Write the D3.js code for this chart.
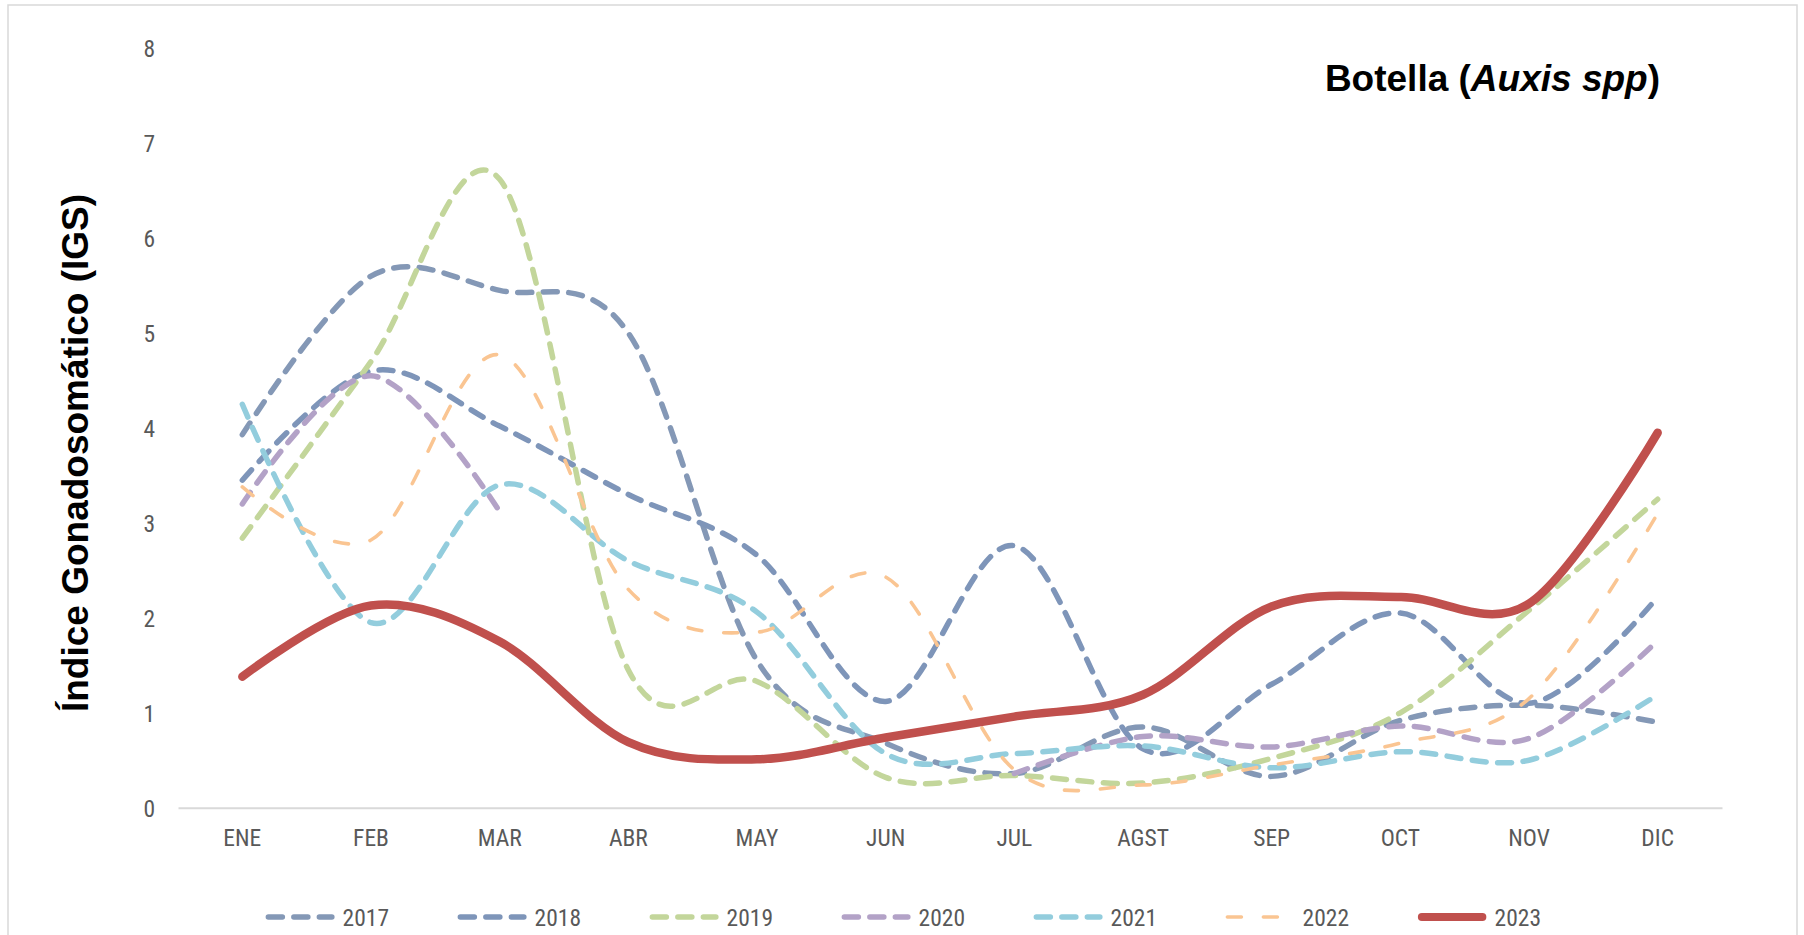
<!DOCTYPE html>
<html>
<head>
<meta charset="utf-8">
<script src="https://cdn.jsdelivr.net/npm/d3@7"></script>
<style>
  html, body { margin: 0; padding: 0; background: #ffffff; }
  svg { display: block; }
</style>
</head>
<body>
<svg id="chart" width="1804" height="935"></svg>
<script>
// Monthly gonadosomatic index (IGS) of Auxis spp, 2017-2023
const months = ["ENE", "FEB", "MAR", "ABR", "MAY", "JUN", "JUL", "AGST", "SEP", "OCT", "NOV", "DIC"];
const yTicks = [0, 1, 2, 3, 4, 5, 6, 7, 8];
const years = ["2017", "2018", "2019", "2020", "2021", "2022", "2023"];

const igs2017 = [3.93, 5.60, 5.45, 5.00, 1.55, 0.68, 0.36, 0.85, 0.33, 0.92, 1.08, 0.90];
const igs2018 = [3.45, 4.60, 4.02, 3.30, 2.66, 1.12, 2.76, 0.62, 1.30, 2.05, 1.10, 2.22];
const igs2019 = [2.84, 4.70, 6.62, 1.45, 1.33, 0.32, 0.34, 0.26, 0.52, 1.00, 2.08, 3.25];
const igs2020 = [3.20, 4.55, 3.12, null, null, null, 0.36, 0.75, 0.64, 0.86, 0.73, 1.76];
const igs2021 = [4.25, 1.95, 3.40, 2.60, 2.06, 0.57, 0.57, 0.65, 0.42, 0.59, 0.50, 1.19];
const igs2022 = [3.38, 2.82, 4.77, 2.30, 1.85, 2.43, 0.40, 0.24, 0.45, 0.68, 1.15, 3.10];
const igs2023 = [1.38, 2.13, 1.75, 0.69, 0.51, 0.74, 0.96, 1.19, 2.12, 2.22, 2.15, 3.95];

const seriesValues = [igs2017, igs2018, igs2019, igs2020, igs2021, igs2022, igs2023];

// Line styles for each year
const seriesColors = ["#8498b6", "#7e95b9", "#c3d69b", "#b3a2c7", "#93cddd", "#fac592", "#c0504d"];
const seriesWidths = [5.5, 5.5, 5.5, 5.5, 5.5, 3.6, 8.5];
const seriesDash = ["14,11.5", "14,11.5", "14,11.5", "14,11.5", "14,11.5", "14,22", null];

const svg = d3.select("#chart");

// Light frame around the chart area
svg.append("rect")
  .attr("x", 8).attr("y", 5)
  .attr("width", 1789).attr("height", 960)
  .attr("fill", "none")
  .attr("stroke", "#d9d9d9")
  .attr("stroke-width", 1.5);

const plotLeft = 178, plotRight = 1722;
const yTop = 48.3, yBottom = 807.7;

const x = d3.scaleBand().domain(months).range([plotLeft, plotRight]).padding(0);
const y = d3.scaleLinear().domain([0, 8]).range([yBottom, yTop]);
const xc = m => x(m) + x.bandwidth() / 2;

const labelFont = "'Liberation Sans Narrow', 'Arial Narrow', 'Roboto Condensed', Lato, sans-serif";

// Y axis: labels only
const yAxis = d3.axisLeft(y).tickValues(yTicks).tickSize(0).tickPadding(0).tickFormat(d3.format("d"));
const gy = svg.append("g").attr("transform", `translate(155,0)`).call(yAxis);
gy.select(".domain").remove();
gy.selectAll("text")
  .attr("x", 0)
  .attr("dy", "0.36em")
  .attr("fill", "#595959")
  .style("font-family", labelFont)
  .style("font-size", "23.5px");

// X axis: baseline plus month labels
const xAxis = d3.axisBottom(x).tickSize(0).tickPadding(0);
const gx = svg.append("g").attr("transform", `translate(0,${yBottom})`).call(xAxis);
gx.select(".domain").attr("stroke", "#d9d9d9").attr("stroke-width", 2);
gx.selectAll("text")
  .attr("y", 38)
  .attr("dy", 0)
  .attr("fill", "#595959")
  .style("font-family", labelFont)
  .style("font-size", "23.5px");

// Series lines (Excel-style smoothed lines)
const line = d3.line()
  .defined(d => d.v !== null)
  .x(d => xc(d.m))
  .y(d => y(d.v))
  .curve(d3.curveCatmullRom.alpha(0));

const gLines = svg.append("g");
seriesValues.forEach((vals, i) => {
  const data = months.map((m, j) => ({ m: m, v: vals[j] }));
  gLines.append("path")
    .datum(data)
    .attr("d", line)
    .attr("fill", "none")
    .attr("stroke", seriesColors[i])
    .attr("stroke-width", seriesWidths[i])
    .attr("stroke-linecap", "round")
    .attr("stroke-linejoin", "round")
    .attr("stroke-dasharray", seriesDash[i]);
});

// Legend
const legend = svg.append("g");
const legendY = 917;
years.forEach((yr, i) => {
  const x0 = 265.6 + 192 * i;
  const w = seriesWidths[i];
  legend.append("line")
    .attr("x1", x0 + w / 2).attr("x2", x0 + 69 - w / 2)
    .attr("y1", legendY).attr("y2", legendY)
    .attr("stroke", seriesColors[i])
    .attr("stroke-width", i === 6 ? 8 : w)
    .attr("stroke-linecap", "round")
    .attr("stroke-dasharray", seriesDash[i]);
  legend.append("text")
    .attr("x", x0 + 77)
    .attr("y", legendY + 8.5)
    .attr("fill", "#595959")
    .style("font-family", labelFont)
    .style("font-size", "23.5px")
    .text(yr);
});

// Chart title
const title = svg.append("text")
  .attr("x", 1660).attr("y", 91)
  .attr("text-anchor", "end")
  .style("font-family", "'Liberation Sans', Arial, sans-serif")
  .style("font-size", "37px")
  .style("font-weight", "bold")
  .attr("fill", "#000000");
title.append("tspan").text("Botella (");
title.append("tspan").style("font-style", "italic").text("Auxis spp");
title.append("tspan").text(")");

// Y axis title
svg.append("text")
  .attr("transform", "translate(88,453) rotate(-90)")
  .attr("text-anchor", "middle")
  .style("font-family", "'Liberation Sans', Arial, sans-serif")
  .style("font-size", "37px")
  .style("font-weight", "bold")
  .attr("fill", "#000000")
  .text("Índice Gonadosomático (IGS)");
</script>
</body>
</html>
